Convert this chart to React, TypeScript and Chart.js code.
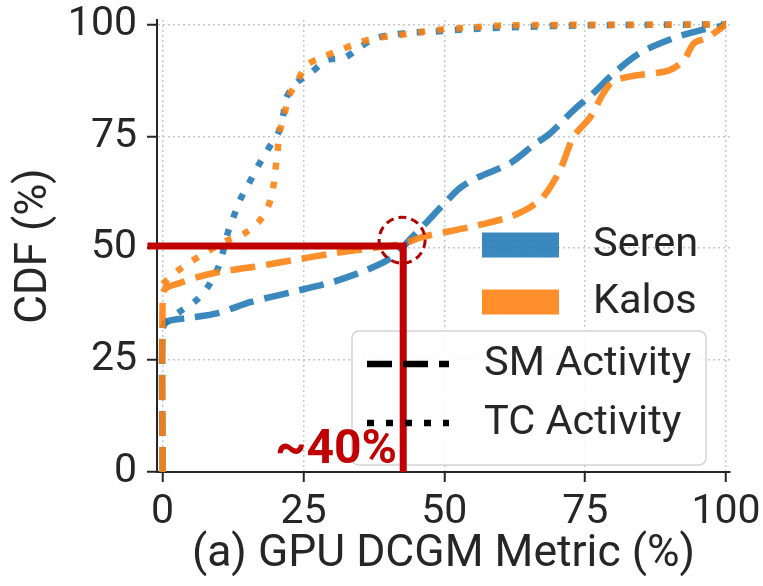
import React, { useEffect, useRef } from "react";
import { Chart, registerables } from "chart.js";
Chart.register(...registerables);

const xTickValues = [0, 25, 50, 75, 100];
const yTickValues = [0, 25, 50, 75, 100];
const xTitle = "(a) GPU DCGM Metric (%)";
const yTitle = "CDF (%)";
const clusters = ["Seren", "Kalos"];
const metrics = ["SM Activity", "TC Activity"];
const annotationText = "~40%";

// Seren – SM Activity
const serenSMx = [0, 0, 1, 4.5, 9.8, 15.7, 22.9, 30, 35.9, 40.7, 44.3, 47, 50, 52.8, 55.9, 61.7, 65.8, 68.8, 72.9, 76.4, 80, 84.8, 90.6, 95.4, 99.8];
const serenSMy = [0, 32, 33.7, 34.4, 35.5, 38, 40.2, 42.4, 45, 48, 52.5, 56, 60, 63.5, 65.8, 69, 73, 75.7, 80.8, 84.6, 89, 93.7, 96.9, 98.7, 99.8];
// Kalos – SM Activity
const kalosSMx = [0, 0, 0.5, 3, 6, 10, 16, 23, 30, 37, 43, 46, 54.5, 61.6, 65, 67.5, 70.5, 72.9, 75.9, 78.2, 80, 83.9, 89.8, 92.5, 94.3, 96.6, 99.8];
const kalosSMy = [0, 39, 41, 42.2, 43.5, 44.7, 45.8, 47.3, 48.8, 50, 51.1, 52.5, 54.7, 57, 59, 61.4, 67.4, 74.8, 79.3, 84.6, 87.3, 88.6, 89.7, 92, 95.8, 97, 99.8];
// Seren – TC Activity
const serenTCx = [0, 3, 6, 8.2, 9.9, 10.8, 11.6, 12.7, 13.9, 15.4, 17, 18.8, 20.5, 21.4, 22, 23.8, 26.4, 29.1, 32.3, 35, 37.7, 41.3, 44.3, 48, 55, 65, 75, 100];
const serenTCy = [33, 35.8, 38.4, 41.7, 45.8, 49.6, 53.6, 57.4, 61.2, 64.7, 68.5, 72.3, 75.7, 79.7, 83.7, 87, 89.3, 92, 92.6, 94.9, 96.9, 97.8, 98.2, 98.4, 99, 99.5, 99.8, 100];
// Kalos – TC Activity
const kalosTCx = [0, 2.7, 5.4, 8.4, 11.6, 14.5, 17, 18.8, 19.6, 20, 20.4, 20.7, 21.6, 22.3, 23.8, 25.5, 28.2, 31.4, 34.5, 37.7, 41, 44.3, 48, 54.5, 60.4, 100];
const kalosTCy = [42, 45, 47.3, 49.6, 51.8, 53.3, 55.8, 59.6, 63.4, 67.4, 71.4, 75.7, 79.7, 83.7, 87, 90.8, 92.6, 94.2, 95.8, 96.9, 97.5, 98, 98.7, 99.3, 99.8, 100];

// annotation (red guide lines)
const guideX = [-2.7, 42.7, 42.7];
const guideY = [50.5, 50.5, 0];
const circleCenterX = 42.5;
const circleCenterY = 51.8;

const BLUE = "rgba(31,119,180,0.88)";
const ORANGE = "rgba(255,127,14,0.88)";
const RED = "#c00000";
const DARKRED = "#b00000";
const TEXT = "#262626";
const FONT = "Roboto";
const DASH = [25, 11];
const DOT = [7, 12];

const pts = (xs: number[], ys: number[]) => xs.map((x, i) => ({ x, y: ys[i] }));

const overlayPlugin = {
  id: "overlay",
  beforeDatasetsDraw(chart: any) {
    const ctx = chart.ctx;
    ctx.save();
    const x = 352, y = 331, w = 354, h = 134, r = 7;
    ctx.beginPath();
    ctx.moveTo(x + r, y);
    ctx.arcTo(x + w, y, x + w, y + h, r);
    ctx.arcTo(x + w, y + h, x, y + h, r);
    ctx.arcTo(x, y + h, x, y, r);
    ctx.arcTo(x, y, x + w, y, r);
    ctx.closePath();
    ctx.fillStyle = "rgba(255,255,255,0.85)";
    ctx.fill();
    ctx.strokeStyle = "#d4d4d4";
    ctx.lineWidth = 1.5;
    ctx.stroke();
    ctx.restore();
  },
  afterDatasetsDraw(chart: any) {
    const ctx = chart.ctx;
    const xs = chart.scales.x, ys = chart.scales.y;
    ctx.save();
    ctx.beginPath();
    ctx.setLineDash([8, 5]);
    ctx.lineWidth = 3;
    ctx.strokeStyle = DARKRED;
    ctx.arc(xs.getPixelForValue(circleCenterX), ys.getPixelForValue(circleCenterY), 23, 0, Math.PI * 2);
    ctx.stroke();
    ctx.setLineDash([]);
    ctx.font = `bold 48px ${FONT}`;
    ctx.fillStyle = RED;
    ctx.textAlign = "right";
    ctx.textBaseline = "alphabetic";
    ctx.fillText(annotationText, 397, 463);
    ctx.font = `41.5px ${FONT}`;
    ctx.textAlign = "left";
    ctx.textBaseline = "middle";
    const colors = [BLUE, ORANGE];
    const rowY = [245, 302];
    clusters.forEach((name, i) => {
      ctx.fillStyle = colors[i];
      ctx.fillRect(482, rowY[i] - 12.5, 77, 25);
      ctx.fillStyle = TEXT;
      ctx.fillText(name, 593, rowY[i] + 1);
    });
    const dashes = [DASH, DOT];
    const lineY = [364, 423];
    metrics.forEach((name, i) => {
      ctx.beginPath();
      ctx.setLineDash(dashes[i]);
      ctx.lineWidth = 6.5;
      ctx.strokeStyle = "#000";
      ctx.moveTo(367, lineY[i]);
      ctx.lineTo(449, lineY[i]);
      ctx.stroke();
      ctx.setLineDash([]);
      ctx.fillStyle = TEXT;
      ctx.fillText(name, 484, lineY[i] + 1);
    });
    ctx.restore();
  },
};

export default function App() {
  const ref = useRef<HTMLCanvasElement | null>(null);
  useEffect(() => {
    if (!ref.current) return;
    const lineDs = (label: string, data: any[], color: string, dash: number[], order: number) => ({
      label,
      data,
      borderColor: color,
      backgroundColor: color,
      borderWidth: 6.5,
      borderDash: dash,
      pointRadius: 0,
      tension: 0.3,
      fill: false,
      order,
    });
    const chart = new Chart(ref.current, {
      type: "line",
      data: {
        datasets: [
          {
            label: "guide",
            data: pts(guideX, guideY),
            borderColor: RED,
            borderWidth: 7,
            pointRadius: 0,
            tension: 0,
            fill: false,
            clip: false,
            order: 0,
          } as any,
          lineDs("Kalos TC", pts(kalosTCx, kalosTCy), ORANGE, DOT, 1),
          lineDs("Kalos SM", pts(kalosSMx, kalosSMy), ORANGE, DASH, 2),
          lineDs("Seren TC", pts(serenTCx, serenTCy), BLUE, DOT, 3),
          lineDs("Seren SM", pts(serenSMx, serenSMy), BLUE, DASH, 4),
        ],
      },
      options: {
        responsive: false,
        animation: false,
        layout: { padding: { left: 0, top: 20, right: 33, bottom: 0 } },
        plugins: { legend: { display: false }, tooltip: { enabled: false } },
        scales: {
          x: {
            type: "linear",
            min: -1,
            max: 100.7,
            afterBuildTicks: (s: any) => {
              s.ticks = xTickValues.map((v) => ({ value: v }));
            },
            afterFit: (s: any) => {
              s.height = 114;
              s.paddingLeft = 0;
              s.paddingRight = 0;
            },
            grid: {
              color: "#c8c8c8",
              lineWidth: 1.5,
              drawTicks: true,
              tickLength: 10,
              tickColor: TEXT,
              tickWidth: 2,
            },
            border: { display: true, color: TEXT, width: 2, dash: [2, 3] },
            ticks: {
              color: TEXT,
              font: { family: FONT, size: 41 },
              padding: 6,
              maxRotation: 0,
              autoSkip: false,
            },
            title: {
              display: true,
              text: xTitle,
              color: TEXT,
              font: { family: FONT, size: 44.5 },
              padding: { top: 0, bottom: 4 },
            },
          },
          y: {
            type: "linear",
            min: 0,
            max: 101,
            afterBuildTicks: (s: any) => {
              s.ticks = yTickValues.map((v) => ({ value: v }));
            },
            afterFit: (s: any) => {
              s.width = 157;
              s.paddingTop = 0;
              s.paddingBottom = 0;
            },
            grid: {
              color: (c: any) => (c.tick && c.tick.value === 0 ? "rgba(0,0,0,0)" : "#c8c8c8"),
              lineWidth: 1.5,
              drawTicks: true,
              tickLength: 10,
              tickColor: TEXT,
              tickWidth: 2,
            },
            border: { display: true, color: TEXT, width: 2, dash: [2, 3] },
            ticks: {
              color: TEXT,
              font: { family: FONT, size: 41 },
              padding: 10,
              autoSkip: false,
            },
            title: {
              display: true,
              text: yTitle,
              color: TEXT,
              font: { family: FONT, size: 44 },
              padding: { top: 9, bottom: 0 },
            },
          },
        },
      },
      plugins: [overlayPlugin],
    } as any);
    return () => chart.destroy();
  }, []);
  return (
    <div style={{ position: "absolute", left: 0, top: 0, width: 763, height: 586, background: "#fff" }}>
      <canvas ref={ref} width={763} height={586} style={{ width: 763, height: 586 }} />
    </div>
  );
}
